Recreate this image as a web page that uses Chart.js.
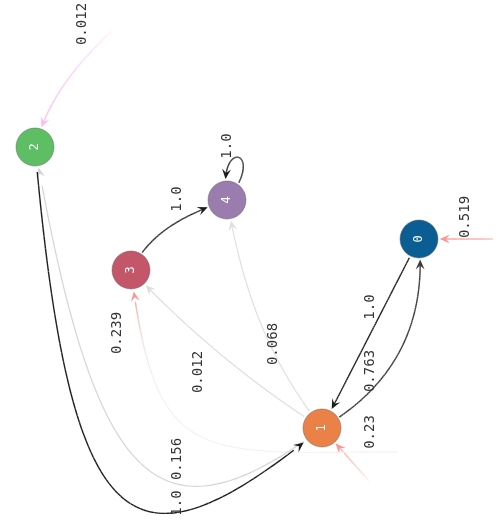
<!DOCTYPE html>
<html lang="en">
<head>
<meta charset="UTF-8" />
<title>Markov chain</title>
<script src="https://cdn.jsdelivr.net/npm/chart.js"></script>
<style>
  html, body { margin: 0; padding: 0; background: #fff; }
</style>
</head>
<body>
<canvas id="graph" width="501" height="528"></canvas>
<script>
  // states and their layout position (the whole graph is turned a quarter turn)
  const states = ['0', '1', '2', '3', '4'];
  const stateX = [419, 322, 35, 131, 227];
  const stateY = [239, 428, 147, 270, 200];

  // start probabilities
  const initState = [0, 1, 2, 3];
  const initProb = [0.519, 0.23, 0.012, 0.239];

  // transitions
  const edgeFrom = [0, 1, 1, 1, 1, 2, 3, 4];
  const edgeTo   = [1, 0, 2, 3, 4, 1, 4, 4];
  const edgeProb = [1.0, 0.763, 0.156, 0.012, 0.068, 1.0, 1.0, 1.0];

  // ---- styling ----
  const NODE_R = 19;
  const nodeColors = ['#0a5e94', '#ea8248', '#5dbe63', '#c4566a', '#9a7caf'];
  const edgeColors = ['#1e1e1e', '#3a3a3a', '#d4d4d4', '#dcdcdc', '#dedede', '#1e1e1e', '#1e1e1e', '#1e1e1e'];
  // curve shape: out angle, out length, in angle, in length (deg, px)
  const edgeShape = [
    [117, 0, -63, 0],
    [-30, 84, 84.5, 84],
    [143, 210, 80, 340],
    [212, 80, 47, 80],
    [232, 90, 80, 90],
    [85, 410, 141, 240],
    [-62, 45, 160, 45],
    [-50, 65, -100, 65]
  ];
  const edgeLabelAt = [[370, 307], [370, 371], [177, 459], [198, 372], [273, 344], [177, 503], [177, 199], [227, 146]];
  // start arrows: start angle, start dist, out angle, out len, in angle, in len, fade power
  const initShape = [
    [0, 74, 180, 0, 0, 0, 0.2],
    [48.4, 72, 0, 0, 0, 0, 1.2],
    [-56.3, 141, 137, 50, -75, 50, 0.6],
    [34.3, 323, 180, 200, 83, 200, 16]
  ];
  const initColors = ['255,150,150', '255,150,150', '255,185,238', '255,150,150'];
  const initLabelAt = [[465, 217], [370, 432], [82, 24], [117, 333]];
  const FONT = '"DejaVu Sans Mono", monospace';

  const fmt = p => Number.isInteger(p) ? p.toFixed(1) : String(p);
  const rad = d => d * Math.PI / 180;

  function bez(p0, c1, c2, p3, t) {
    const u = 1 - t;
    return {
      x: u*u*u*p0.x + 3*u*u*t*c1.x + 3*u*t*t*c2.x + t*t*t*p3.x,
      y: u*u*u*p0.y + 3*u*u*t*c1.y + 3*u*t*t*c2.y + t*t*t*p3.y
    };
  }
  const dist = (a, b) => Math.hypot(a.x - b.x, a.y - b.y);

  function arrowHead(ctx, tip, from, color) {
    let dx = tip.x - from.x, dy = tip.y - from.y;
    const l = Math.hypot(dx, dy) || 1;
    dx /= l; dy /= l;
    const L = 10, W = 4.5;
    ctx.fillStyle = color;
    ctx.beginPath();
    ctx.moveTo(tip.x, tip.y);
    ctx.lineTo(tip.x - L*dx + W*dy, tip.y - L*dy - W*dx);
    ctx.lineTo(tip.x - 0.6*L*dx, tip.y - 0.6*L*dy);
    ctx.lineTo(tip.x - L*dx - W*dy, tip.y - L*dy + W*dx);
    ctx.closePath();
    ctx.fill();
  }

  // draws a cubic from p0 to p3, trimmed at the node circles; colorAt(t) gives stroke colour
  function drawCurve(ctx, p0, c1, c2, p3, trimStart, colorAt, width) {
    const N = 240;
    const gap = NODE_R + 1.5;
    let t0 = 0, t1 = 1;
    if (trimStart) {
      for (let i = 0; i <= N; i++) { const t = i / N; if (dist(bez(p0, c1, c2, p3, t), p0) >= gap) { t0 = t; break; } }
    }
    for (let i = N; i >= 0; i--) { const t = i / N; if (dist(bez(p0, c1, c2, p3, t), p3) >= gap) { t1 = t; break; } }
    const tip = bez(p0, c1, c2, p3, t1);
    let back = bez(p0, c1, c2, p3, Math.max(t0, t1 - 0.04));
    if (dist(back, tip) < 3) back = bez(p0, c1, c2, p3, Math.max(t0, t1 - 0.1));
    ctx.lineWidth = width;
    ctx.lineCap = 'butt';
    const steps = 80;
    const tEnd = t1 - (t1 - t0) * 0.02;
    let prev = bez(p0, c1, c2, p3, t0);
    for (let i = 1; i <= steps; i++) {
      const t = t0 + (tEnd - t0) * i / steps;
      const pt = bez(p0, c1, c2, p3, t);
      ctx.strokeStyle = colorAt((t - t0) / (t1 - t0));
      ctx.beginPath();
      ctx.moveTo(prev.x, prev.y);
      ctx.lineTo(pt.x, pt.y);
      ctx.stroke();
      prev = pt;
    }
    arrowHead(ctx, tip, back, colorAt(1));
  }

  function rotText(ctx, txt, x, y, color, size) {
    ctx.save();
    ctx.translate(x, y);
    ctx.rotate(-Math.PI / 2);
    ctx.fillStyle = color;
    ctx.font = size + 'px ' + FONT;
    ctx.textAlign = 'center';
    ctx.textBaseline = 'middle';
    ctx.fillText(txt, 0, 0);
    ctx.restore();
  }

  const graphPlugin = {
    id: 'graph',
    beforeDatasetsDraw(chart) {
      const { ctx, scales: { x, y } } = chart;
      const P = states.map((s, i) => ({ x: x.getPixelForValue(stateX[i]), y: y.getPixelForValue(stateY[i]) }));
      ctx.save();

      // start arrows
      initState.forEach((s, k) => {
        const [sa, sd, oa, ol, ia, il, pw] = initShape[k];
        const p3 = P[s];
        const p0 = { x: p3.x + sd * Math.cos(rad(sa)), y: p3.y + sd * Math.sin(rad(sa)) };
        const c1 = { x: p0.x + ol * Math.cos(rad(oa)), y: p0.y + ol * Math.sin(rad(oa)) };
        const c2 = { x: p3.x + il * Math.cos(rad(ia)), y: p3.y + il * Math.sin(rad(ia)) };
        if (pw > 3) drawCurve(ctx, p0, c1, c2, p3, false, () => '#f2f2f2', 1.2);
        const col = initColors[k];
        drawCurve(ctx, p0, c1, c2, p3, false, t => `rgba(${col},${Math.pow(t, pw).toFixed(3)})`, 1.4);
      });

      // transitions
      edgeFrom.forEach((f, k) => {
        const [oa, ol, ia, il] = edgeShape[k];
        const p0 = P[f], p3 = P[edgeTo[k]];
        const c1 = { x: p0.x + ol * Math.cos(rad(oa)), y: p0.y + ol * Math.sin(rad(oa)) };
        const c2 = { x: p3.x + il * Math.cos(rad(ia)), y: p3.y + il * Math.sin(rad(ia)) };
        drawCurve(ctx, p0, c1, c2, p3, true, () => edgeColors[k], edgeProb[k] > 0.5 ? 1.4 : 1.2);
      });
      ctx.restore();
    },
    afterDatasetsDraw(chart) {
      const { ctx, scales: { x, y } } = chart;
      states.forEach((s, i) => {
        rotText(ctx, s, x.getPixelForValue(stateX[i]), y.getPixelForValue(stateY[i]), '#ffffff', 12);
      });
      edgeProb.forEach((p, k) => {
        rotText(ctx, fmt(p), x.getPixelForValue(edgeLabelAt[k][0]), y.getPixelForValue(edgeLabelAt[k][1]), '#333333', 14);
      });
      initProb.forEach((p, k) => {
        rotText(ctx, fmt(p), x.getPixelForValue(initLabelAt[k][0]), y.getPixelForValue(initLabelAt[k][1]), '#333333', 14);
      });
    }
  };

  new Chart(document.getElementById('graph'), {
    type: 'scatter',
    data: {
      datasets: [{
        data: states.map((s, i) => ({ x: stateX[i], y: stateY[i] })),
        pointRadius: NODE_R,
        pointHoverRadius: NODE_R,
        backgroundColor: nodeColors,
        borderColor: 'rgba(90,90,90,0.45)',
        borderWidth: 1
      }]
    },
    options: {
      responsive: false,
      animation: false,
      events: [],
      layout: { padding: 0, autoPadding: false },
      plugins: { legend: { display: false }, tooltip: { enabled: false } },
      scales: {
        x: { type: 'linear', min: 0, max: 501, display: false },
        y: { type: 'linear', min: 0, max: 528, reverse: true, display: false }
      }
    },
    plugins: [graphPlugin]
  });
</script>
</body>
</html>
